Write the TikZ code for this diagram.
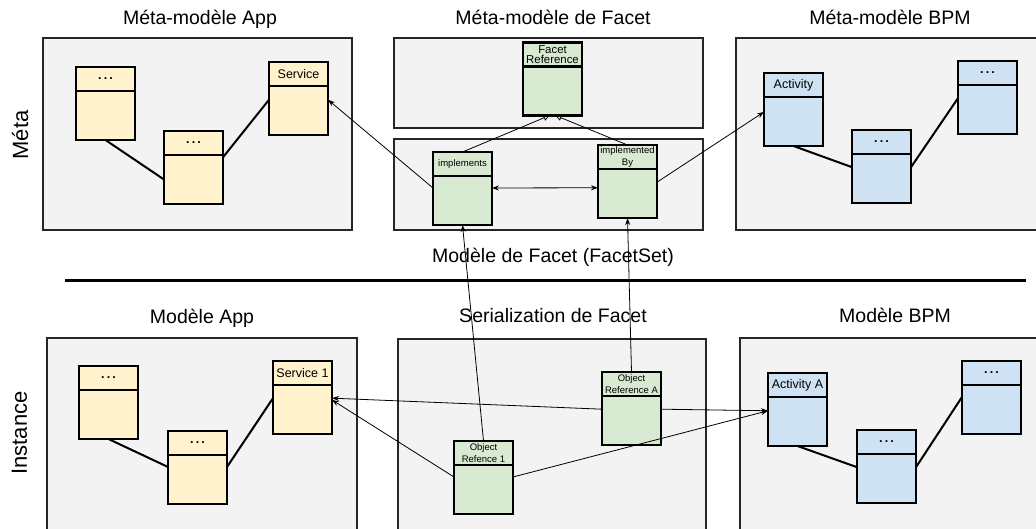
\documentclass[tikz,border=0pt]{standalone}
\usepackage{fontspec}
\setmainfont{Liberation Sans}
\usetikzlibrary{positioning,arrows.meta}
\definecolor{panelgray}{HTML}{F3F3F3}
\definecolor{appyellow}{HTML}{FFF2CC}
\definecolor{facetgreen}{HTML}{D9EAD3}
\definecolor{bpmblue}{HTML}{CFE2F3}
\newcommand{\more}{\textbf{.\,.\,.}}
\tikzset{
  panel/.style={draw=black!85, line width=2pt, fill=panelgray, minimum width=309, inner sep=0},
  title/.style={anchor=base, font=\fontsize{19.5}{22}\selectfont},
  side/.style={anchor=base, rotate=90, font=\fontsize{22}{24}\selectfont},
  hdr/.style={draw, line width=2.4pt, minimum width=59, minimum height=24, inner sep=1pt, outer sep=0, align=center, font=\fontsize{12.5}{13}\selectfont},
  body/.style={draw, line width=2.4pt, minimum width=59, minimum height=49, inner sep=0, outer sep=0},
  small/.style={font=\fontsize{9.5}{12}\selectfont},
  link/.style={line width=2pt},
  ref/.style={->, line width=0.8pt},
  gen/.style={-{Triangle[open,length=6pt,width=6pt]}, line width=0.8pt}
}
\begin{document}
\begin{tikzpicture}[x=1pt,y=1pt,>={Stealth[length=7pt,width=5pt]}]
\clip (0,0) rectangle (1036,-528);
% meta level
\node[side] (lmeta) at (28,-135) {Méta};
\node[title] (tappmeta) at (200,-24) {Méta-modèle App};
\node[panel, minimum height=192] (appmeta) at (197.5,-134) {};
\node[hdr, fill=appyellow] (a1) at (105.5,-79) {\more};
\node[body, fill=appyellow, below=0pt of a1] (a1b) {};
\node[hdr, fill=appyellow] (a2) at (193.5,-143) {\more};
\node[body, fill=appyellow, below=0pt of a2] (a2b) {};
\node[hdr, fill=appyellow] (svc) at (298.5,-74) {Service};
\node[body, fill=appyellow, below=0pt of svc] (svcb) {};

\node[title] (tfacetmeta) at (553,-24) {Méta-modèle de Facet};
\node[panel, minimum height=90] (facetmeta) at (548.5,-83) {};
\node[hdr, fill=facetgreen, font=\fontsize{11.4}{10.5}\selectfont] (fref) at (552.5,-54.5) {Facet\\Reference};
\node[body, fill=facetgreen, below=0pt of fref] (frefb) {};

\node[panel, minimum height=91] (facetset) at (548.5,-184.5) {};
\node[title] (tfacetset) at (553,-262) {Modèle de Facet (FacetSet)};
\node[hdr, small, fill=facetgreen] (impl) at (462.5,-164) {implements};
\node[body, fill=facetgreen, below=0pt of impl] (implb) {};
\node[hdr, small, fill=facetgreen] (implby) at (627.5,-157) {implemented\\By};
\node[body, fill=facetgreen, below=0pt of implby] (implbyb) {};

\node[title] (tbpmmeta) at (890,-24) {Méta-modèle BPM};
\node[panel, minimum height=192] (bpmmeta) at (890.5,-134) {};
\node[hdr, fill=bpmblue] (act) at (793.5,-85) {Activity};
\node[body, fill=bpmblue, below=0pt of act] (actb) {};
\node[hdr, fill=bpmblue] (b2) at (881.5,-142) {\more};
\node[body, fill=bpmblue, below=0pt of b2] (b2b) {};
\node[hdr, fill=bpmblue] (b3) at (987.5,-73) {\more};
\node[body, fill=bpmblue, below=0pt of b3] (b3b) {};

\draw[line width=3pt] (65,-280) -- (1026,-280);

% instance level
\node[side] (linst) at (27,-433) {Instance};
\node[title] (tapp) at (202,-323) {Modèle App};
\node[panel, minimum width=310, minimum height=200] (app) at (202,-438) {};
\node[hdr, fill=appyellow] (c1) at (108.5,-378) {\more};
\node[body, fill=appyellow, below=0pt of c1] (c1b) {};
\node[hdr, fill=appyellow] (c2) at (197.5,-443) {\more};
\node[body, fill=appyellow, below=0pt of c2] (c2b) {};
\node[hdr, fill=appyellow] (svc1) at (302.5,-373) {Service 1};
\node[body, fill=appyellow, below=0pt of svc1] (svc1b) {};

\node[title] (tser) at (553,-322) {Serialization de Facet};
\node[panel, minimum width=308, minimum height=200] (ser) at (552,-439) {};
\node[hdr, small, fill=facetgreen] (oref1) at (483.5,-453) {Object\\Refence 1};
\node[body, fill=facetgreen, below=0pt of oref1] (oref1b) {};
\node[hdr, small, fill=facetgreen] (orefa) at (631.5,-384) {Object\\Reference A};
\node[body, fill=facetgreen, below=0pt of orefa] (orefab) {};

\node[title] (tbpm) at (895,-322) {Modèle BPM};
\node[panel, minimum height=200] (bpm) at (894.5,-438) {};
\node[hdr, fill=bpmblue] (acta) at (797.5,-385) {Activity A};
\node[body, fill=bpmblue, below=0pt of acta] (actab) {};
\node[hdr, fill=bpmblue] (d2) at (886.5,-442) {\more};
\node[body, fill=bpmblue, below=0pt of d2] (d2b) {};
\node[hdr, fill=bpmblue] (d3) at (991.5,-373) {\more};
\node[body, fill=bpmblue, below=0pt of d3] (d3b) {};

% associations inside the models
\draw[link] (a1b.south) -- (a2b.west);
\draw[link] (a2b.37) -- (svcb.160);
\draw[link] (actb.south) -- (b2b.159);
\draw[link] (b2b.21) -- (b3b.159);
\draw[link] (c1b.south) -- (c2b.157);
\draw[link] (c2b.23) -- (svc1b.159);
\draw[link] (actab.south) -- (d2b.159);
\draw[link] (d2b.21) -- (d3b.157);

% facet references
\draw[ref] (implb.157) -- (svcb.20);
\draw[ref] (implbyb.21) -- (actb.162);
\draw[<->, line width=0.8pt] (implb.23) -- (implbyb.169);
\draw[gen] (impl.north) -- ([xshift=-3]frefb.south);
\draw[gen] (implby.north) -- ([xshift=3]frefb.south);
\draw[ref] (oref1.north) -- (implb.south);
\draw[ref] (orefa.north) -- (implbyb.south);
\draw[ref] (orefab.159) -- (svc1b.21);
\draw[ref] (oref1b.157) -- (svc1b.18);
\draw[ref] (orefab.21) -- (actab.160);
\draw[ref] (oref1b.23) -- (actab.160);
\end{tikzpicture}
\end{document}
